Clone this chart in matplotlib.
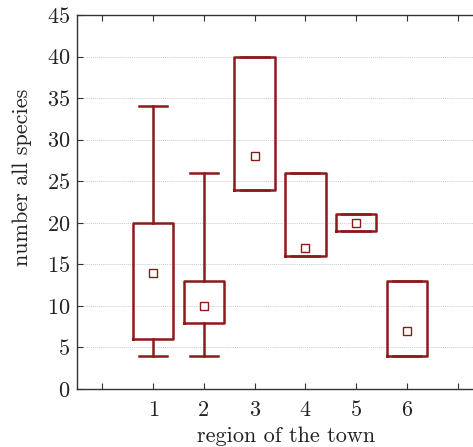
import matplotlib.pyplot as plt

plt.rcParams["font.family"] = "serif"
plt.rcParams["font.serif"] = ["cmr10"]
plt.rcParams["mathtext.fontset"] = "cm"
plt.rcParams["axes.formatter.use_mathtext"] = True

# box data per region of the town
regions = [1, 2, 3, 4, 5, 6]
whisk_lo = [4, 4, 24, 16, 19, 4]
q1 = [6, 8, 24, 16, 19, 4]
q3 = [20, 13, 40, 26, 21, 13]
whisk_hi = [34, 26, 40, 26, 21, 13]
means = [14, 10, 28, 17, 20, 7]

col = "#8b1a1a"

stats = []
for i in range(len(regions)):
    stats.append({"whislo": whisk_lo[i], "q1": q1[i], "med": means[i], "q3": q3[i],
                  "whishi": whisk_hi[i], "mean": means[i], "fliers": []})

fig = plt.figure(figsize=(4.73, 4.47), dpi=100)
ax = fig.add_axes([77 / 473, 58 / 447, 406 / 473, 374 / 447])

lw = 1.8
ax.bxp(stats, positions=regions, widths=0.8, capwidths=0.55, showmeans=True,
       boxprops=dict(color=col, linewidth=lw),
       whiskerprops=dict(color=col, linewidth=lw),
       capprops=dict(color=col, linewidth=lw),
       medianprops=dict(visible=False),
       meanprops=dict(marker="s", markersize=6, markerfacecolor="white",
                      markeredgecolor=col, markeredgewidth=1.0))

ax.set_xlim(-0.5, 7.5)
ax.set_ylim(0, 45)
ax.set_xticks(range(0, 8))
ax.set_xticklabels([""] + [str(r) for r in regions] + [""])
ax.set_yticks(range(0, 46, 5))
ax.tick_params(direction="in", length=4, width=0.8, top=True, right=False,
               labelsize=16, colors="#333333", labelcolor="#222222", pad=5)
ax.tick_params(axis="x", pad=8)
for s in ["left", "bottom", "top"]:
    ax.spines[s].set_linewidth(1.0)
    ax.spines[s].set_color("#333333")
ax.spines["right"].set_visible(False)
ax.yaxis.grid(True, linestyle=(0, (1, 1)), color="#cccccc", linewidth=0.7)
ax.set_axisbelow(True)

ax.set_xlabel("region of the town", fontsize=16, color="#222222", labelpad=3)
ax.set_ylabel("number all species", fontsize=16, color="#222222", labelpad=5)
ax.xaxis.set_label_coords(0.515, -0.1)
ax.yaxis.set_label_coords(-0.11, 0.565)

fig.savefig("out.png", dpi=100)
